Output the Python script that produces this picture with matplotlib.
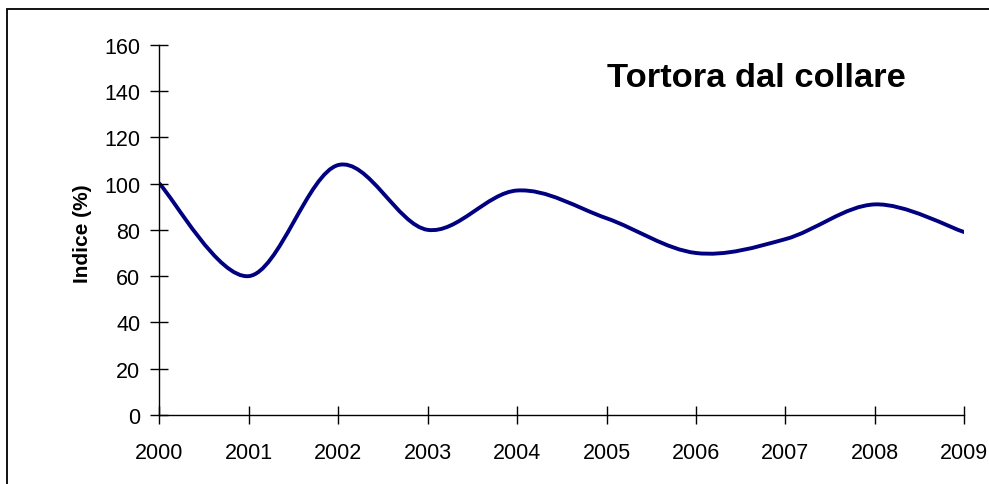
import matplotlib
matplotlib.use("Agg")
import matplotlib.pyplot as plt
from matplotlib.path import Path
from matplotlib.patches import PathPatch, Rectangle
import numpy as np

plt.rcParams['font.family'] = ['Liberation Sans', 'DejaVu Sans']

years = [2000, 2001, 2002, 2003, 2004, 2005, 2006, 2007, 2008, 2009]
indice = [100, 60, 108, 80, 97, 85, 70, 76, 91, 79]
y_ticks = [0, 20, 40, 60, 80, 100, 120, 140, 160]
title = "Tortora dal collare"
ylabel = "Indice (%)"

W, H = 989, 485
fig = plt.figure(figsize=(W / 100, H / 100), dpi=100)
ax = fig.add_axes([159.3 / W, 1 - 416 / H, (964.4 - 159.3) / W, (416 - 45.7) / H])

# Smoothed line (Excel-style Bezier through the data points)
pts = np.column_stack([years, indice]).astype(float)
n = len(pts)
verts = [tuple(pts[0])]
codes = [Path.MOVETO]
for i in range(n - 1):
    p0 = pts[max(i - 1, 0)]
    p1 = pts[i]
    p2 = pts[i + 1]
    p3 = pts[min(i + 2, n - 1)]
    c1 = p1 + (p2 - p0) / 6.0
    c2 = p2 - (p3 - p1) / 6.0
    verts += [tuple(c1), tuple(c2), tuple(p2)]
    codes += [Path.CURVE4] * 3
ax.add_patch(PathPatch(Path(verts, codes), facecolor='none', edgecolor='#000080',
                       lw=2.8, capstyle='round', joinstyle='round'))

ax.set_xlim(years[0], years[-1])
ax.set_ylim(y_ticks[0], y_ticks[-1])
ax.set_xticks(years)
ax.set_xticklabels([str(y) for y in years])
ax.set_yticks(y_ticks)
ax.set_yticklabels([str(v) for v in y_ticks])

for s in ['top', 'right']:
    ax.spines[s].set_visible(False)
for s in ['left', 'bottom']:
    ax.spines[s].set_linewidth(1.0)
    ax.spines[s].set_color('black')

ax.tick_params(axis='both', direction='inout', length=12.5, width=1.0,
               labelsize=15.5, colors='black')
ax.tick_params(axis='x', pad=13)
ax.tick_params(axis='y', pad=7.5)

fig.text(83 / W, 1 - 234 / H, ylabel, rotation=90, ha='center', va='center',
         fontsize=15, fontweight='bold')
fig.text(756.5 / W, 1 - 87 / H, title, ha='center', va='baseline',
         fontsize=24.8, fontweight='bold')

fig.patches.append(Rectangle((7 / W, -0.2), 1.3, 1.2 - 10 / H,
                             transform=fig.transFigure, fill=False,
                             edgecolor='black', lw=1.3))

fig.savefig("out.png", dpi=100)
